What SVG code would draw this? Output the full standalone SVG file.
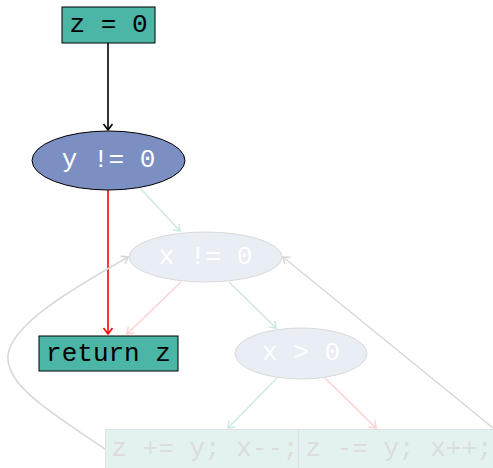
<svg xmlns="http://www.w3.org/2000/svg" width="493" height="468" viewBox="0 0 493 468">
<style>
.t{font-family:"Liberation Mono","Courier New",monospace;font-size:26px;text-anchor:middle;dominant-baseline:central}
.dark{fill:#000}
.white{fill:#fff}
.faint{fill:#dcdcdc}
.e{fill:none;stroke-width:1.6}
</style>
<defs>
<marker id="ak" markerWidth="12" markerHeight="12" refX="7" refY="5" orient="auto" markerUnits="userSpaceOnUse"><path d="M1,0.5 L7,5 L1,9.5" fill="none" stroke="#000" stroke-width="1.6"/></marker>
<marker id="ar" markerWidth="12" markerHeight="12" refX="7" refY="5" orient="auto" markerUnits="userSpaceOnUse"><path d="M1,0.5 L7,5 L1,9.5" fill="none" stroke="#ff0000" stroke-width="1.6"/></marker>
<marker id="ap" markerWidth="12" markerHeight="12" refX="7" refY="5" orient="auto" markerUnits="userSpaceOnUse"><path d="M1,0.5 L7,5 L1,9.5" fill="none" stroke="#ffd3d3" stroke-width="1.6"/></marker>
<marker id="at" markerWidth="12" markerHeight="12" refX="7" refY="5" orient="auto" markerUnits="userSpaceOnUse"><path d="M1,0.5 L7,5 L1,9.5" fill="none" stroke="#cfeae3" stroke-width="1.6"/></marker>
<marker id="ag" markerWidth="12" markerHeight="12" refX="7" refY="5" orient="auto" markerUnits="userSpaceOnUse"><path d="M1,0.5 L7,5 L1,9.5" fill="none" stroke="#d9d9d9" stroke-width="1.6"/></marker>
</defs>
<g id="connectors">
<path class="e" d="M108,43 L108,130" stroke="#000" marker-end="url(#ak)"/>
<path class="e" d="M108,190 L108,334" stroke="#ff0000" marker-end="url(#ar)"/>
<path class="e" d="M140,188 L180,231" stroke="#cfeae3" marker-end="url(#at)"/>
<path class="e" d="M181,282 L127,334" stroke="#ffd3d3" marker-end="url(#ap)"/>
<path class="e" d="M229,282 L276,328" stroke="#cfeae3" marker-end="url(#at)"/>
<path class="e" d="M277,378 L228,428" stroke="#cfeae3" marker-end="url(#at)"/>
<path class="e" d="M325,378 L376,428" stroke="#ffd3d3" marker-end="url(#ap)"/>
<path class="e" d="M493,428 L283,257" stroke="#d9d9d9" marker-end="url(#ag)"/>
<path class="e" d="M105,449 C50,412 5,385 8,355 C12,322 80,285 128,257" stroke="#d9d9d9" marker-end="url(#ag)"/>
</g>
<g id="n_z0">
<rect x="62" y="7" width="93" height="36" fill="#4bb5a6" stroke="#000"/>
<text class="t dark" x="108.5" y="25">z = 0</text>
</g>
<g id="n_y">
<ellipse cx="108.5" cy="160.5" rx="76.5" ry="29.5" fill="#7b8fc2" stroke="#000"/>
<text class="t white" x="108.5" y="160">y != 0</text>
</g>
<g id="n_x">
<ellipse cx="205.5" cy="257" rx="76.5" ry="25" fill="#e9edf4" stroke="#d9d9d9"/>
<text class="t white" x="205.5" y="257">x != 0</text>
</g>
<g id="n_xgt">
<ellipse cx="301" cy="353.5" rx="66" ry="25.5" fill="#e9edf4" stroke="#d9d9d9"/>
<text class="t white" x="301" y="353">x &gt; 0</text>
</g>
<g id="n_ret">
<rect x="39" y="336" width="139" height="35" fill="#4bb5a6" stroke="#000"/>
<text class="t dark" x="108.5" y="354">return z</text>
</g>
<g id="n_bottom">
<rect x="105.5" y="429.5" width="193" height="45" fill="#e3f2f0" stroke="#e0e0e0"/>
<rect x="298.5" y="429.5" width="200" height="45" fill="#e3f2f0" stroke="#e0e0e0"/>
<text class="t faint" x="205" y="449">z += y; x--;</text>
<text class="t faint" x="399" y="449">z -= y; x++;</text>
</g>
</svg>
